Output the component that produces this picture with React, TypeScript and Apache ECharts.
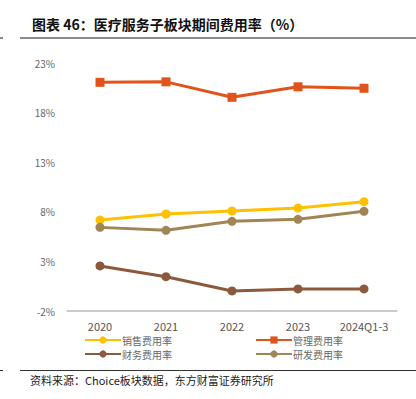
import React, { useEffect, useRef } from "react";
import * as echarts from "echarts";

const categories = ["2020", "2021", "2022", "2023", "2024Q1-3"];
const salesRate = [7.17, 7.78, 8.08, 8.38, 9.02];
const mgmtRate = [21.05, 21.1, 19.54, 20.6, 20.45];
const finRate = [2.54, 1.46, 0.02, 0.22, 0.22];
const rdRate = [6.43, 6.13, 7.04, 7.24, 8.05];

const seriesNames = ["销售费用率", "管理费用率", "财务费用率", "研发费用率"];
const colors = ["#FFC000", "#E0541C", "#8B5A3C", "#A08556"];

const titleText = "图表 46：医疗服务子板块期间费用率（%）";
const sourceText = "资料来源：Choice板块数据，东方财富证券研究所";

export default function App() {
  const ref = useRef<HTMLDivElement>(null);
  useEffect(() => {
    if (!ref.current) return;
    const chart = echarts.init(ref.current, null, { renderer: "svg" });
    const font = "'Noto Sans CJK SC', 'Noto Sans', sans-serif";
    const mk = (i: number, data: number[], symbol: string) => ({
      name: seriesNames[i],
      type: "line",
      data,
      symbol,
      symbolSize: 9,
      lineStyle: { width: 3, color: colors[i] },
      itemStyle: { color: colors[i] },
    });
    const legendText = { color: "#666", fontSize: 10, lineHeight: 10, padding: [0, 0, 0, -4] };
    chart.setOption({
      animation: false,
      textStyle: { fontFamily: font },
      grid: { left: 67, right: 19, top: 63, bottom: 88 },
      xAxis: {
        type: "category",
        data: categories,
        boundaryGap: true,
        axisLine: { onZero: false, lineStyle: { color: "#BBBBBB", width: 1.5 } },
        axisTick: { show: false },
        axisLabel: { color: "#555", fontSize: 11, margin: 9, fontFamily: font },
      },
      yAxis: {
        type: "value",
        min: -2,
        max: 23,
        interval: 5,
        splitLine: { show: false },
        axisLine: { show: false },
        axisTick: { show: false },
        axisLabel: { color: "#666", fontSize: 10, formatter: "{value}%", margin: 12, fontFamily: font },
      },
      legend: [
        {
          data: [seriesNames[0], seriesNames[2]],
          orient: "vertical",
          left: 84,
          top: 335,
          padding: 0,
          itemWidth: 36,
          itemHeight: 9,
          itemGap: 4,
          textStyle: legendText,
        },
        {
          data: [seriesNames[1], seriesNames[3]],
          orient: "vertical",
          left: 255,
          top: 335,
          padding: 0,
          itemWidth: 36,
          itemHeight: 9,
          itemGap: 4,
          textStyle: legendText,
        },
      ],
      graphic: [
        {
          type: "text",
          left: 32,
          top: 17,
          style: { text: titleText, font: `bold 14px ${font}`, fill: "#111" },
        },
        { type: "rect", shape: { x: 20, y: 37, width: 396, height: 2 }, style: { fill: "#8C8C8C" } },
        { type: "rect", shape: { x: 0, y: 37, width: 3, height: 2 }, style: { fill: "#8C8C8C" } },
        { type: "rect", shape: { x: 20, y: 370, width: 396, height: 1 }, style: { fill: "#333" } },
        { type: "rect", shape: { x: 0, y: 370, width: 3, height: 1 }, style: { fill: "#333" } },
        {
          type: "text",
          left: 30,
          top: 374,
          style: { text: sourceText, font: `11px ${font}`, fill: "#222" },
        },
      ],
      series: [
        mk(0, salesRate, "circle"),
        mk(1, mgmtRate, "rect"),
        mk(2, finRate, "circle"),
        mk(3, rdRate, "circle"),
      ],
    });
    return () => chart.dispose();
  }, []);
  return <div ref={ref} style={{ width: 416, height: 399, position: "absolute", left: 0, top: 0 }} />;
}
